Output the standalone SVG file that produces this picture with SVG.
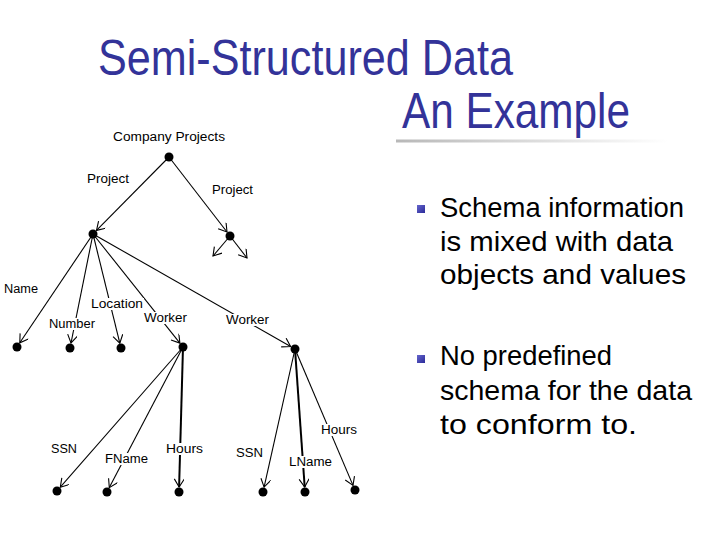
<svg xmlns="http://www.w3.org/2000/svg" width="720" height="540" viewBox="0 0 720 540">
<style>
.title{font-family:"Liberation Sans",Arial,sans-serif;font-size:50px;fill:#333399}
.bul{font-family:"Liberation Sans",Arial,sans-serif;font-size:28px;fill:#000}
.lbl{font-family:"Liberation Sans",Arial,sans-serif;font-size:12px;fill:#000}
.bg{fill:#fff}
.edge{stroke:#000;stroke-width:1.1;fill:none;marker-end:url(#arr)}
.dot{fill:#000}
</style>
<defs>
<marker id="arr" markerUnits="userSpaceOnUse" markerWidth="12" markerHeight="12" refX="9" refY="5" orient="auto">
<path d="M1,0 L9,5 L1,10" fill="none" stroke="#000" stroke-width="1.1"/>
</marker>
<linearGradient id="rule" x1="0" y1="0" x2="1" y2="0">
<stop offset="0" stop-color="#b8b8b8"/>
<stop offset="1" stop-color="#ffffff"/>
</linearGradient>
<linearGradient id="bulg" x1="0" y1="0" x2="1" y2="1">
<stop offset="0" stop-color="#6666cc"/>
<stop offset="1" stop-color="#2a2a99"/>
</linearGradient>
</defs>
<rect width="720" height="540" fill="#fff"/>

<g id="title">
<text class="title" x="98" y="75" textLength="415" lengthAdjust="spacingAndGlyphs">Semi-Structured Data</text>
<text class="title" x="402" y="128" textLength="228" lengthAdjust="spacingAndGlyphs">An Example</text>
<rect x="396" y="139.5" width="272" height="3" fill="url(#rule)"/>
</g>

<g id="bullets">
<rect x="417" y="205" width="8" height="8" fill="url(#bulg)"/>
<text class="bul" x="440" y="217" textLength="244" lengthAdjust="spacingAndGlyphs">Schema information</text>
<text class="bul" x="440" y="251" textLength="233" lengthAdjust="spacingAndGlyphs">is mixed with data</text>
<text class="bul" x="440" y="284" textLength="246" lengthAdjust="spacingAndGlyphs">objects and values</text>
<rect x="417" y="355" width="8" height="8" fill="url(#bulg)"/>
<text class="bul" x="440" y="365" textLength="172" lengthAdjust="spacingAndGlyphs">No predefined</text>
<text class="bul" x="440" y="400" textLength="252" lengthAdjust="spacingAndGlyphs">schema for the data</text>
<text class="bul" x="440" y="434" textLength="197" lengthAdjust="spacingAndGlyphs">to conform to.</text>
</g>

<g id="connectors">
<line class="edge" x1="169" y1="157" x2="96.5" y2="230.4"/>
<line class="edge" x1="169" y1="157" x2="227" y2="232"/>
<line class="edge" x1="230" y1="236" x2="213" y2="256"/>
<line class="edge" x1="230" y1="236" x2="247" y2="258"/>
<line class="edge" x1="93" y1="234" x2="19.8" y2="342.8"/>
<line class="edge" x1="93" y1="234" x2="71" y2="343"/>
<line class="edge" x1="93" y1="234" x2="119.8" y2="343.2"/>
<line class="edge" x1="93" y1="234" x2="179.9" y2="343.1"/>
<line class="edge" x1="93" y1="234" x2="290.6" y2="346.5"/>
<line class="edge" x1="183" y1="347" x2="60.3" y2="487.2"/>
<line class="edge" x1="183" y1="347" x2="109.3" y2="487.6"/>
<line class="edge" x1="183" y1="347" x2="179.1" y2="487" style="stroke-width:2"/>
<line class="edge" x1="295" y1="349" x2="264.1" y2="487.1"/>
<line class="edge" x1="295" y1="349" x2="304.7" y2="487" style="stroke-width:2"/>
<line class="edge" x1="295" y1="349" x2="353" y2="485.4"/>
</g>

<g id="edge-labels">
<rect class="bg" x="112" y="131" width="114" height="13"/>
<text class="lbl" x="113" y="141" textLength="112" lengthAdjust="spacingAndGlyphs">Company Projects</text>
<rect class="bg" x="86" y="173" width="44" height="13"/>
<text class="lbl" x="87" y="183" textLength="42" lengthAdjust="spacingAndGlyphs">Project</text>
<rect class="bg" x="211" y="184" width="43" height="13"/>
<text class="lbl" x="212" y="194" textLength="41" lengthAdjust="spacingAndGlyphs">Project</text>
<rect class="bg" x="3" y="283" width="36" height="13"/>
<text class="lbl" x="4" y="293" textLength="34" lengthAdjust="spacingAndGlyphs">Name</text>
<rect class="bg" x="90" y="298" width="54" height="12"/>
<text class="lbl" x="91" y="308" textLength="52" lengthAdjust="spacingAndGlyphs">Location</text>
<rect class="bg" x="48" y="318" width="48" height="12"/>
<text class="lbl" x="49" y="328" textLength="46" lengthAdjust="spacingAndGlyphs">Number</text>
<rect class="bg" x="143" y="312" width="45" height="12"/>
<text class="lbl" x="144" y="322" textLength="43" lengthAdjust="spacingAndGlyphs">Worker</text>
<rect class="bg" x="225" y="314" width="45" height="12"/>
<text class="lbl" x="226" y="324" textLength="43" lengthAdjust="spacingAndGlyphs">Worker</text>
<rect class="bg" x="50" y="443" width="28" height="12"/>
<text class="lbl" x="51" y="453" textLength="26" lengthAdjust="spacingAndGlyphs">SSN</text>
<rect class="bg" x="104" y="453" width="45" height="12"/>
<text class="lbl" x="105" y="463" textLength="43" lengthAdjust="spacingAndGlyphs">FName</text>
<rect class="bg" x="165" y="443" width="39" height="12"/>
<text class="lbl" x="166" y="453" textLength="37" lengthAdjust="spacingAndGlyphs">Hours</text>
<rect class="bg" x="235" y="447" width="29" height="12"/>
<text class="lbl" x="236" y="457" textLength="27" lengthAdjust="spacingAndGlyphs">SSN</text>
<rect class="bg" x="288" y="456" width="45" height="12"/>
<text class="lbl" x="289" y="466" textLength="43" lengthAdjust="spacingAndGlyphs">LName</text>
<rect class="bg" x="320" y="424" width="38" height="12"/>
<text class="lbl" x="321" y="434" textLength="36" lengthAdjust="spacingAndGlyphs">Hours</text>
</g>

<g id="n-root"><circle class="dot" cx="169" cy="157" r="4.5"/></g>
<g id="n-project1"><circle class="dot" cx="93" cy="234" r="4.5"/></g>
<g id="n-project2"><circle class="dot" cx="230" cy="236" r="4.5"/></g>
<g id="n-name"><circle class="dot" cx="17" cy="347" r="4.5"/></g>
<g id="n-number"><circle class="dot" cx="70" cy="348" r="4.5"/></g>
<g id="n-location"><circle class="dot" cx="121" cy="348" r="4.5"/></g>
<g id="n-worker1"><circle class="dot" cx="183" cy="347" r="4.5"/></g>
<g id="n-worker2"><circle class="dot" cx="295" cy="349" r="4.5"/></g>
<g id="n-ssn1"><circle class="dot" cx="57" cy="491" r="4.5"/></g>
<g id="n-fname"><circle class="dot" cx="107" cy="492" r="4.5"/></g>
<g id="n-hours1"><circle class="dot" cx="179" cy="492" r="4.5"/></g>
<g id="n-ssn2"><circle class="dot" cx="263" cy="492" r="4.5"/></g>
<g id="n-lname"><circle class="dot" cx="305" cy="492" r="4.5"/></g>
<g id="n-hours2"><circle class="dot" cx="355" cy="490" r="4.5"/></g>
</svg>
